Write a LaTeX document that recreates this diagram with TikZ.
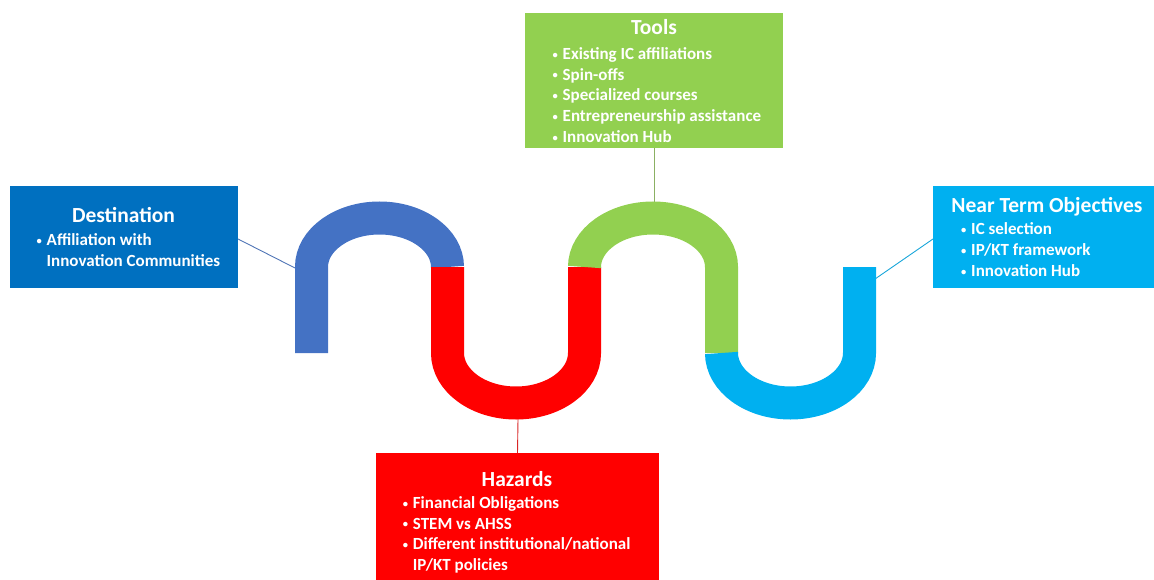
\documentclass[tikz,border=0pt]{standalone}
\usepackage{fontspec}
\setmainfont{Carlito}
\definecolor{destblue}{HTML}{0070C0}
\definecolor{archblue}{HTML}{4472C4}
\definecolor{toolgreen}{HTML}{92D050}
\definecolor{nearcyan}{HTML}{00B0F0}
\definecolor{hazred}{HTML}{FF0000}
\newcommand\bul{\makebox[10.5pt][l]{\hspace{0.5pt}\raisebox{1.2pt}{\scalebox{0.62}{\textbullet}}}}
\newcommand\hang{\hspace*{10.5pt}}
\begin{document}
\begin{tikzpicture}[x=1pt,y=-1pt,
  panel/.style={rectangle, inner sep=0pt, outer sep=0pt, draw=none},
  ttl/.style={anchor=base, inner sep=0pt, text=white, font=\fontsize{21.5}{26}\selectfont\bfseries},
  lst/.style={anchor=base west, inner sep=0pt, text=white, font=\fontsize{17}{20.8}\selectfont\bfseries},
  wave/.style={line width=33pt, line cap=butt},
  conn/.style={line width=0.9pt}]
\useasboundingbox (0,0) rectangle (1154,580);
\clip (0,0) rectangle (1154,580);

% panels
\node[panel, fill=destblue, minimum width=228pt, minimum height=102pt] (dest) at (124,237) {};
\node[panel, fill=toolgreen, minimum width=258pt, minimum height=135pt] (tools) at (654,80.5) {};
\node[panel, fill=nearcyan, minimum width=227pt, minimum height=102pt] (near) at (1046.5,237) {};
\node[panel, fill=hazred, minimum width=283pt, minimum height=133pt] (haz) at (517.5,519.5) {};

% titles
\node[ttl] (destT) at (123.5,222.7) {Destination};
\node[ttl] (toolsT) at (654,35) {Tools};
\node[ttl] (nearT) at (1047,212.7) {Near Term Objectives};
\node[ttl] (hazT) at (517,486) {Hazards};

% bullet lists
\node[lst] (destL) at (36,245.7) {\begin{tabular}[t]{@{}l@{}}
  \bul Affiliation with\\
  \hang Innovation Communities\end{tabular}};
\node[lst] (toolsL) at (552,59.3) {\begin{tabular}[t]{@{}l@{}}
  \bul Existing IC affiliations\\
  \bul Spin-offs\\
  \bul Specialized courses\\
  \bul Entrepreneurship assistance\\
  \bul Innovation Hub\end{tabular}};
\node[lst] (nearL) at (960.5,235) {\begin{tabular}[t]{@{}l@{}}
  \bul IC selection\\
  \bul IP/KT framework\\
  \bul Innovation Hub\end{tabular}};
\node[lst] (hazL) at (402.2,508.3) {\begin{tabular}[t]{@{}l@{}}
  \bul Financial Obligations\\
  \bul STEM vs AHSS\\
  \bul Different institutional/national\\
  \hang IP/KT policies\end{tabular}};

% attachment points on the wave
\coordinate (wBlue) at (295,268);
\coordinate (wGreen) at (654,203);
\coordinate (wRed) at (518,419);
\coordinate (wCyan) at (875,279);

% connectors
\draw[conn, archblue!80!gray] (dest.-1.5) -- (wBlue);
\draw[conn, toolgreen!60!gray] (tools.south) -- (wGreen);
\draw[conn, hazred!70!gray] (wRed) -- (haz.north);
\draw[conn, nearcyan!80!gray] (near.181) -- (wCyan);

% the wave
\draw[wave, archblue] (311.5,353) -- (311.5,267)
  arc[start angle=180, end angle=0, x radius=68pt, y radius=49pt];
\draw[wave, hazred] (447.5,267) -- (447.5,353)
  arc[start angle=180, end angle=360, x radius=68.5pt, y radius=50pt] -- (584.5,267);
\draw[wave, toolgreen] (584.5,267)
  arc[start angle=180, end angle=0, x radius=68.5pt, y radius=49pt] -- (721.5,353);
\draw[wave, nearcyan] (721.5,353)
  arc[start angle=180, end angle=360, x radius=69pt, y radius=50pt] -- (859.5,267);
\end{tikzpicture}
\end{document}
